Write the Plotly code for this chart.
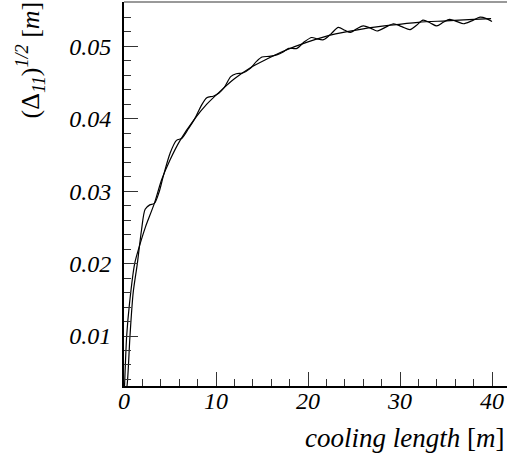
import plotly.graph_objects as go

# smooth curve
smooth_x = [0.0, 0.07, 0.29, 0.6, 1.16, 1.7, 2.32, 3.3, 4.1, 5.0, 6.1, 7.7, 9.0, 10.3, 12.0,
            13.7, 15.5, 17.3, 20.0, 23.0, 26.0, 29.0, 32.0, 35.0, 38.0, 39.9]
smooth_y = [0.0015, 0.0035, 0.0100, 0.0145, 0.0200, 0.0225, 0.0250, 0.0283, 0.0316, 0.0343,
            0.0370, 0.0400, 0.0420, 0.0436, 0.0455, 0.0470, 0.0482, 0.0493, 0.0506, 0.0517,
            0.0524, 0.0529, 0.0533, 0.0535, 0.0537, 0.0538]

# oscillating curve
osc_x = [0.0, 0.36, 0.65, 1.0, 1.45, 1.9, 2.3, 2.8, 3.3, 3.8, 4.3, 5.0, 5.7, 6.3, 7.0, 7.7,
         8.4, 9.0, 9.7, 10.3, 10.9, 11.6, 12.2, 12.9, 13.7, 14.4, 15.0, 15.8, 16.6, 17.3,
         17.9, 18.8, 19.6, 20.4, 21.0, 21.7, 22.5, 23.3, 24.0, 24.6, 25.3, 26.0, 26.8, 27.5,
         28.4, 29.3, 30.2, 31.1, 31.8, 32.5, 33.3, 34.0, 34.7, 35.4, 36.2, 36.9, 37.8, 38.7,
         39.4, 40.0]
osc_y = [0.0000, 0.0035, 0.0100, 0.0160, 0.0200, 0.0246, 0.0275, 0.0281, 0.0283, 0.0298,
         0.0322, 0.0352, 0.0370, 0.0373, 0.0386, 0.0400, 0.0418, 0.0429, 0.0431, 0.0435,
         0.0443, 0.0458, 0.0462, 0.0463, 0.0469, 0.0479, 0.0485, 0.0486, 0.0488, 0.0492,
         0.0497, 0.0497, 0.0506, 0.0512, 0.0510, 0.0509, 0.0517, 0.0526, 0.0522, 0.0519,
         0.0524, 0.0528, 0.0525, 0.0521, 0.0526, 0.0531, 0.0527, 0.0523, 0.0529, 0.0536,
         0.0532, 0.0528, 0.0533, 0.0537, 0.0534, 0.0531, 0.0535, 0.0540, 0.0538, 0.0534]

y_ticks = [0.01, 0.02, 0.03, 0.04, 0.05]
y_labels = ["0.01", "0.02", "0.03", "0.04", "0.05"]
x_ticks = [0, 10, 20, 30, 40]
x_labels = ["0", "10", "20", "30", "40"]

FONT = "Liberation Serif"

fig = go.Figure()
fig.add_trace(go.Scatter(x=smooth_x, y=smooth_y, mode="lines",
                         line=dict(color="black", width=1.2, shape="spline", smoothing=0.8),
                         showlegend=False, hoverinfo="skip"))
fig.add_trace(go.Scatter(x=osc_x, y=osc_y, mode="lines",
                         line=dict(color="black", width=1.2, shape="spline", smoothing=0.8),
                         showlegend=False, hoverinfo="skip"))

W, H = 507, 465
L, T, B = 124, 2, 79
pw = W - L
ph = H - T - B

fig.update_layout(
    width=W, height=H,
    margin=dict(l=L, r=0, t=T, b=B, pad=0),
    paper_bgcolor="white", plot_bgcolor="white",
    font=dict(family=FONT, size=22, color="black"),
    xaxis=dict(range=[0, 41.63], showgrid=False, zeroline=False,
               showline=True, linecolor="black", linewidth=2,
               ticks="inside", ticklen=14, tickwidth=1, tickcolor="#333",
               tickvals=x_ticks, ticktext=x_labels,
               tickfont=dict(family=FONT, size=24, color="black", style="italic"),
               ticklabelstandoff=-8,
               minor=dict(dtick=2, tick0=0, ticks="inside", ticklen=7,
                          tickwidth=1, tickcolor="#333", showgrid=False)),
    yaxis=dict(range=[0.0031, 0.0561], showgrid=False, zeroline=False,
               showline=True, linecolor="black", linewidth=2,
               ticks="inside", ticklen=14, tickwidth=1, tickcolor="#333",
               tickvals=y_ticks, ticktext=y_labels,
               tickfont=dict(family=FONT, size=24, color="black", style="italic"),
               ticklabelstandoff=6,
               minor=dict(dtick=0.002, tick0=0, ticks="inside", ticklen=7,
                          tickwidth=1, tickcolor="#333", showgrid=False)),
    shapes=[dict(type="line", xref="paper", yref="paper", x0=0, x1=1, y0=1, y1=1,
                 line=dict(color="#777", width=1.5))],
    annotations=[
        dict(text="<i>cooling length</i> [<i>m</i>]", xref="paper", yref="paper",
             x=(506 - L) / pw, y=(386 - 438) / ph, xanchor="right", yanchor="middle",
             showarrow=False, font=dict(family=FONT, size=27, color="black")),
        dict(text="(\u0394<sub><i>11</i></sub>)<sup><i>1/2</i></sup> [<i>m</i>]",
             xref="paper", yref="paper", textangle=-90,
             x=(30 - L) / pw, y=(386 - 0) / ph, xanchor="center", yanchor="top",
             showarrow=False, font=dict(family=FONT, size=26, color="black")),
    ],
)

fig.write_html("out.html")
